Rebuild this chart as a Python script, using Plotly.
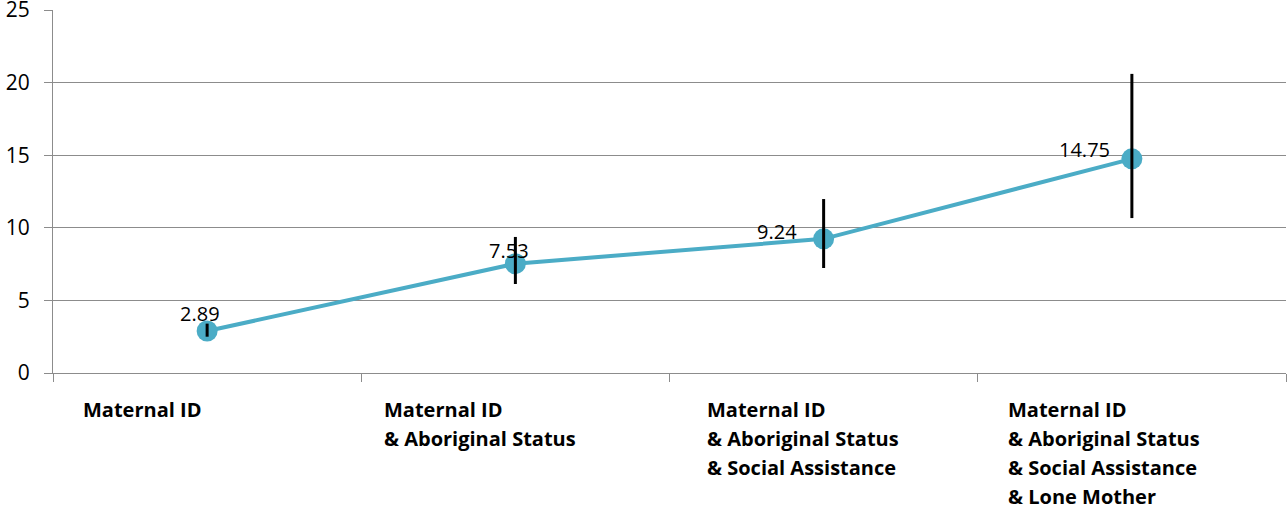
import plotly.graph_objects as go

categories = ["Maternal ID",
              "Maternal ID<br>& Aboriginal Status",
              "Maternal ID<br>& Aboriginal Status<br>& Social Assistance",
              "Maternal ID<br>& Aboriginal Status<br>& Social Assistance<br>& Lone Mother"]
values = [2.89, 7.53, 9.24, 14.75]
ci_lower = [2.5, 6.13, 7.23, 10.67]
ci_upper = [3.4, 9.37, 11.98, 20.6]
y_ticks = [0, 5, 10, 15, 20, 25]

# style
keys = [f"c{i}" for i in range(len(categories))]
err_plus = [u - v for u, v in zip(ci_upper, values)]
err_minus = [v - l for v, l in zip(values, ci_lower)]
label_dx = [-7, -6, -47, -47]
label_dy = [18, 13, 7, 9]
cat_dx = [-126, -133, -119, -126]
FONT = "Open Sans"
LINE = "#4BACC6"
GRID = "#8C8C8C"

fig = go.Figure()
fig.add_trace(go.Scatter(
    x=keys, y=values, mode="lines+markers",
    line=dict(color=LINE, width=4),
    marker=dict(size=21, color=LINE),
    hoverinfo="skip", showlegend=False))
fig.add_trace(go.Scatter(
    x=keys, y=values, mode="markers",
    marker=dict(size=1, opacity=0),
    error_y=dict(type="data", symmetric=False, array=err_plus, arrayminus=err_minus,
                 color="black", thickness=3, width=0),
    hoverinfo="skip", showlegend=False))

for k, v, dx, dy in zip(keys, values, label_dx, label_dy):
    fig.add_annotation(x=k, y=v, text=f"{v:.2f}", showarrow=False,
                       xanchor="center", yanchor="middle", xshift=dx, yshift=dy,
                       font=dict(family=FONT, size=20, color="black"))

for k, lab, dx in zip(keys, categories, cat_dx):
    for i, line in enumerate(lab.split("<br>")):
        fig.add_annotation(x=k, xref="x", y=0, yref="paper", text=f"<b>{line}</b>",
                           showarrow=False, xanchor="left", yanchor="middle",
                           xshift=dx, yshift=-36 - 29 * i,
                           font=dict(family=FONT, size=20, color="black"))

fig.update_layout(
    width=1287, height=508,
    margin=dict(l=53, r=1, t=10, b=135, autoexpand=False),
    paper_bgcolor="white", plot_bgcolor="white",
    font=dict(family=FONT, color="black"),
    xaxis=dict(type="category", categoryarray=keys, showticklabels=False,
               tickson="boundaries", ticks="outside", ticklen=8, tickcolor=GRID,
               showgrid=False, showline=True, linecolor=GRID, linewidth=1,
               range=[-0.5, 3.5], automargin=False),
    yaxis=dict(range=[0, 25], tickvals=y_ticks, ticks="outside", ticklen=8,
               tickcolor=GRID, showgrid=True, gridcolor=GRID, gridwidth=1,
               showline=True, linecolor=GRID, linewidth=1, zeroline=False,
               tickfont=dict(family=FONT, size=21, color="black"),
               ticklabelstandoff=10, ticklabeloverflow="allow", automargin=False),
)

fig.write_html("out.html", config={"displayModeBar": False},
               post_script="document.body.style.margin='0px';document.body.style.overflow='hidden';")
